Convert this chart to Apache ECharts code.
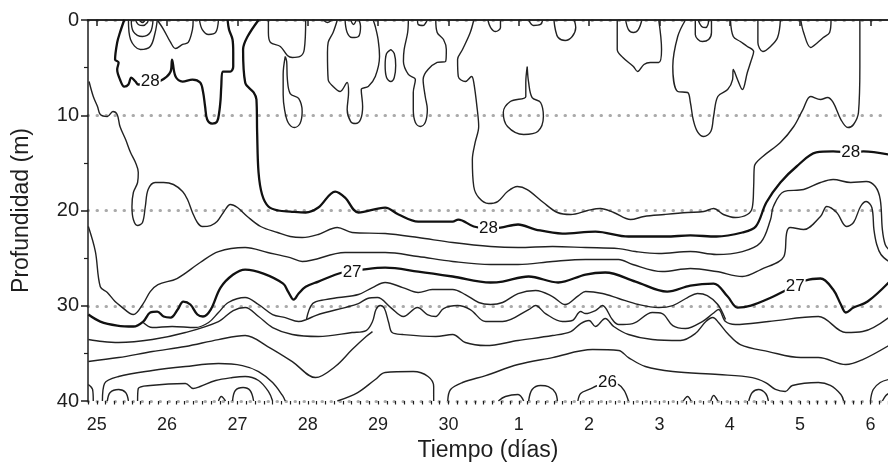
<!DOCTYPE html>
<html><head><meta charset="utf-8">
<script src="https://cdn.jsdelivr.net/npm/echarts@6/dist/echarts.min.js"></script>
<style>html,body{margin:0;padding:0;background:#fff}#c{width:888px;height:462px}</style>
</head><body><div id="c"></div><script>
// time axis: continuous days (31 = "1", 32 = "2", ...); depth in metres
const dayTicks = [25,26,27,28,29,30,31,32,33,34,35,36];
const dayTickLabels = ['25','26','27','28','29','30','1','2','3','4','5','6'];
const depthTicks = [0,10,20,30,40];

// ---- isotherms (bold = labelled 28 / 27) ----
const iso28Lobe = [[25.39,0],[25.33,1.31],[25.29,2.36],[25.26,4.15],[25.31,4.46],[25.29,5.2],[25.33,6.25],[25.39,7.0],[25.45,6.77],[25.49,6.04],[25.55,6.46],[25.59,6.77],[25.69,6.7],[25.9,6.4],[26.05,5.41],[26.07,4.15],[26.12,5.93],[26.22,6.46],[26.36,6.25],[26.47,6.56],[26.51,7.51],[26.54,9.08],[26.57,10.45],[26.64,10.87],[26.71,10.66],[26.74,9.71],[26.76,8.35],[26.77,6.98],[26.79,5.41],[26.9,5.41],[26.94,4.88],[26.94,3.41],[26.93,2.05],[26.88,1.0],[26.86,0]];
const iso28Main = [[27.3,0],[27.14,1.79],[27.08,3.1],[27.11,6.56],[27.23,7.61],[27.27,8.35],[27.28,11.81],[27.3,16.01],[27.35,18.32],[27.44,19.58],[27.58,20.0],[27.75,20.11],[27.97,20.21],[28.15,19.69],[28.39,18.01],[28.53,18.64],[28.72,20.21],[29.1,19.69],[29.29,20.42],[29.57,21.16],[30.06,21.16],[30.14,20.95],[30.36,21.68],[30.56,21.89],[30.74,21.79],[30.99,21.47],[31.24,22.0],[31.62,22.42],[32.09,22.21],[32.56,22.73],[33.09,22.73],[33.44,22.62],[33.81,22.73],[34.18,22.31],[34.37,21.68],[34.52,19.16],[34.72,17.06],[34.95,15.38],[35.23,13.91],[35.47,13.8],[35.72,13.91],[35.9,13.8],[36.26,14.12]];
const iso27 = [[24.88,30.92],[25.05,31.66],[25.29,32.08],[25.52,32.18],[25.66,31.66],[25.76,30.71],[25.86,30.61],[25.95,31.13],[26.05,31.24],[26.15,30.4],[26.23,29.56],[26.33,29.87],[26.43,30.92],[26.51,31.13],[26.62,30.4],[26.76,28.09],[26.94,26.72],[27.11,26.2],[27.37,26.62],[27.65,27.67],[27.72,28.51],[27.8,29.35],[27.87,28.72],[27.97,28.0],[28.15,27.46],[28.49,26.51],[28.78,26.2],[29.1,26.0],[29.57,26.41],[30.06,26.93],[30.6,27.56],[30.77,27.46],[31.14,26.93],[31.56,27.56],[31.95,26.72],[32.23,26.51],[32.66,27.46],[33.11,28.51],[33.44,27.88],[33.77,27.67],[33.97,29.03],[34.11,30.19],[34.3,29.98],[34.62,29.03],[34.79,28.4],[35.08,27.35],[35.29,27.14],[35.47,28.3],[35.58,29.87],[35.65,30.71],[35.76,30.19],[35.96,29.56],[36.26,27.56]];

// ---- thin isotherms ----
const isoUpper = [[30.36,0],[30.31,1.31],[30.2,3.1],[30.13,4.15],[30.14,5.93],[30.24,6.46],[30.33,5.93],[30.36,6.56],[30.41,9.4],[30.43,11.18],[30.38,12.86],[30.34,14.65],[30.36,17.48],[30.43,18.64],[30.57,19.27],[30.7,19.06],[30.84,18.01],[30.98,17.48],[31.12,17.8],[31.35,19.16],[31.55,20.21],[31.74,20.42],[31.98,20.0],[32.16,19.79],[32.35,20.21],[32.59,20.95],[32.78,20.63],[33.07,20.42],[33.4,20.21],[33.63,20.11],[33.77,19.79],[33.91,20.42],[34.08,20.74],[34.25,20.42],[34.32,19.69],[34.34,17.48],[34.35,15.38],[34.47,14.33],[34.72,12.86],[34.91,11.18],[35.04,9.4],[35.15,8.03],[35.29,8.35],[35.39,8.14],[35.47,8.66],[35.58,10.45],[35.68,11.29],[35.76,10.97],[35.83,9.71],[35.85,4.88],[35.85,0]];
const isoB = [[24.89,6.46],[24.95,8.03],[25.01,9.08],[25.05,9.92],[25.15,10.13],[25.23,9.61],[25.29,9.92],[25.33,11.18],[25.41,12.55],[25.48,13.91],[25.55,14.96],[25.59,16.01],[25.58,17.06],[25.52,18.11],[25.5,19.58],[25.52,20.95],[25.58,21.58],[25.65,21.26],[25.69,19.58],[25.73,17.8],[25.83,17.06],[25.95,17.06],[26.09,17.27],[26.22,18.01],[26.29,18.85],[26.36,20.21],[26.43,21.26],[26.5,21.68],[26.62,21.58],[26.71,21.16],[26.8,20.21],[26.9,19.37],[27.0,19.69],[27.14,20.63],[27.33,21.68],[27.57,22.31],[27.75,22.73],[27.92,22.84],[28.15,22.52],[28.42,21.79],[28.63,22.31],[29.1,22.42],[29.57,22.84],[30.06,23.36],[30.6,23.78],[30.99,23.89],[31.48,23.78],[31.95,23.89],[32.42,24.0],[32.66,24.31],[32.99,24.52],[33.44,24.31],[33.81,24.62],[34.18,24.31],[34.44,23.36],[34.58,20.95],[34.62,19.58],[34.77,18.01],[35.05,17.8],[35.29,17.06],[35.47,16.75],[35.72,17.06],[35.94,16.96],[36.07,17.48],[36.14,18.85],[36.17,22.0],[36.21,23.57],[36.26,24.1]];
const isoC = [[24.88,21.68],[24.98,24.31],[25.05,28.0],[25.15,28.61],[25.26,29.56],[25.33,29.98],[25.52,30.92],[25.66,29.77],[25.76,28.51],[25.87,27.77],[26.14,27.14],[26.47,25.46],[26.73,24.31],[27.11,23.89],[27.43,24.41],[27.75,24.94],[27.92,25.35],[28.53,24.41],[29.1,24.41],[29.57,24.83],[30.06,25.35],[30.6,25.67],[30.99,25.67],[31.48,25.35],[31.95,25.14],[32.42,25.14],[32.62,25.67],[33.04,26.41],[33.44,26.09],[33.81,26.41],[34.18,26.93],[34.44,26.2],[34.77,24.83],[34.81,22.31],[34.86,21.79],[35.05,22.0],[35.29,20.63],[35.38,19.58],[35.52,20.21],[35.66,21.68],[35.76,21.26],[35.86,19.58],[35.94,19.06],[36.02,19.69],[36.05,22.0],[36.09,23.57],[36.15,24.62],[36.26,25.35]];
const isoE = [[25.66,31.76],[25.79,32.29],[26.07,32.18],[26.4,32.29],[26.59,31.76],[26.73,30.71],[26.87,29.66],[27.11,29.14],[27.3,29.87],[27.5,30.92],[27.68,31.24],[27.87,31.66],[27.98,31.45],[28.11,31.03],[28.25,30.71],[28.53,30.19],[28.72,29.77],[28.85,29.24],[28.99,29.14],[29.18,30.19],[29.36,31.13],[29.56,30.19],[29.7,30.92],[29.82,31.13],[29.93,30.29],[30.13,29.98],[30.31,30.4],[30.53,31.66],[30.77,31.66],[31.14,30.4],[31.24,29.98],[31.38,30.82],[31.62,31.66],[31.76,31.55],[31.88,30.61],[31.95,30.82],[32.09,30.5],[32.19,29.98],[32.33,31.45],[32.42,31.97],[32.62,31.87],[32.9,30.71],[33.04,30.82],[33.19,32.08],[33.37,32.39],[33.61,31.66],[33.76,30.82],[33.84,30.4],[33.94,31.66],[34.08,31.97],[34.55,31.66],[35.26,31.13],[35.65,32.81],[35.89,32.71],[36.26,31.24]];
const isoX = [[27.98,31.45],[28.07,29.77],[28.25,29.35],[28.44,29.14],[28.72,28.82],[28.92,28.09],[29.1,27.56],[29.35,28.09],[29.57,28.61],[29.77,28.3],[30.06,28.3],[30.24,28.82],[30.43,29.66],[30.6,29.87],[30.77,29.66],[30.99,28.72],[31.24,28.4],[31.48,29.03],[31.66,29.87],[31.85,28.93],[31.95,28.51],[32.19,28.72],[32.42,29.24],[32.7,29.87],[32.99,30.19],[33.19,29.98],[33.4,29.14],[33.54,28.72],[33.68,28.93],[33.83,29.87],[33.94,31.45]];
const isoF = [[24.88,33.55],[25.08,33.76],[25.31,33.86],[25.79,33.55],[26.26,32.81],[26.73,31.66],[26.94,30.5],[27.11,30.19],[27.3,31.13],[27.5,32.29],[27.78,33.02],[28.15,33.23],[28.63,32.81],[28.83,32.6],[28.92,31.66],[28.97,30.4],[29.03,29.98],[29.09,30.29],[29.15,31.76],[29.2,32.81],[29.35,33.02],[29.82,33.23],[30.06,33.02],[30.24,33.86],[30.53,34.18],[30.99,33.65],[31.48,33.13],[31.74,32.71],[31.88,31.87],[32.0,31.55],[32.09,32.18],[32.23,31.34],[32.35,32.18],[32.56,33.02],[32.9,33.55],[33.3,33.65],[33.51,32.92],[33.66,31.66],[33.76,31.24],[33.84,31.76],[33.97,32.92],[34.15,34.07],[34.55,34.81],[35.01,35.44],[35.26,35.44],[35.65,36.17],[35.89,35.65],[36.26,34.18]];
const isoG = [[24.88,35.86],[25.31,35.44],[25.79,34.81],[26.26,34.28],[26.73,33.55],[27.11,33.13],[27.43,34.28],[27.78,35.86],[28.11,37.54],[28.39,36.38],[28.63,34.6],[28.83,33.23],[28.92,32.71]];
const isoH = [[25.08,40],[25.11,38.16],[25.31,37.43],[25.79,36.8],[26.26,36.38],[26.73,36.07],[27.07,36.28],[27.3,36.91],[27.5,38.06],[27.64,39.42],[27.68,40]];
const isoHin = [[25.58,40],[25.59,38.69],[25.76,38.37],[26.26,38.16],[26.37,38.69],[26.47,38.48],[26.69,37.85],[26.93,37.54],[27.11,37.43],[27.3,37.85],[27.44,39.0],[27.5,40]];
const isoI = [[29.99,40],[30.03,38.79],[30.2,38.06],[30.53,37.33],[30.99,36.17],[31.48,35.44],[32.05,34.6],[32.42,34.7],[32.56,35.44],[32.8,36.38],[33.19,36.91],[33.84,37.22],[34.32,37.54],[34.51,38.06],[34.65,38.79],[34.79,39.0],[34.89,38.37],[35.26,38.06],[35.43,38.37],[35.58,39.32],[35.62,40]];
const iso26 = [[31.84,40],[31.88,39.21],[32.0,38.79],[32.12,38.37],[32.26,38.06],[32.42,38.27],[32.5,38.9],[32.56,40]];

// small surface and bottom cells
const top1a = [[25.45,0],[25.48,2.05],[25.62,3.1],[25.76,2.78],[25.83,1.31],[25.86,0]];
const top1b = [[25.49,0],[25.52,1.21],[25.65,1.73],[25.76,1.31],[25.8,0]];
const top1c = [[25.55,0],[25.59,0.47],[25.66,0.58],[25.72,0.26],[25.73,0]];
const top1d = [[25.6,0],[25.65,0.26],[25.69,0]];
const top2 = [[25.86,0],[25.95,1.0],[26.05,2.36],[26.12,2.99],[26.22,2.57],[26.3,2.36],[26.36,1.0],[26.37,0]];
const top3 = [[26.46,0],[26.5,1.0],[26.59,1.52],[26.69,1.31],[26.73,0]];
const top4a = [[27.44,0],[27.44,1.31],[27.47,2.36],[27.61,2.78],[27.71,3.73],[27.78,3.94],[27.89,3.83],[27.95,3.1],[27.97,0]];
const top4b = [[27.68,3.83],[27.65,5.72],[27.65,7.82],[27.67,9.4],[27.72,10.76],[27.81,11.29],[27.89,10.87],[27.92,9.61],[27.87,8.24],[27.75,7.72],[27.71,6.25],[27.7,4.36],[27.68,3.83]];
const top5 = [[28.22,0],[28.28,0.26],[28.34,0]];
const top6a = [[28.42,0],[28.36,1.31],[28.29,2.36],[28.28,3.41],[28.29,6.25],[28.36,6.98],[28.46,7.51],[28.56,6.56],[28.58,7.61],[28.56,9.4],[28.61,10.66],[28.68,10.87],[28.75,10.45],[28.78,9.08],[28.76,7.3],[28.86,6.98],[28.96,5.93],[29.02,3.83],[29.0,2.05],[28.96,0.68],[28.93,0]];
const top6b = [[28.53,0],[28.56,1.31],[28.63,1.84],[28.72,1.73],[28.75,0.68],[28.73,0]];
const top6c = [[28.61,0],[28.65,0.47],[28.69,0]];
const top7 = [[29.18,3.1],[29.23,3.52],[29.25,4.78],[29.23,6.04],[29.18,6.46],[29.12,6.04],[29.1,4.78],[29.12,3.52],[29.18,3.1]];
const top8a = [[29.43,0],[29.42,1.31],[29.37,3.1],[29.36,4.36],[29.43,5.72],[29.53,6.25],[29.5,7.61],[29.5,9.4],[29.53,10.76],[29.6,11.18],[29.67,10.76],[29.7,9.4],[29.67,8.03],[29.64,6.25],[29.84,4.46],[29.96,4.36],[29.97,3.1],[29.93,2.05],[29.84,1.31],[29.82,0]];
const top8b = [[29.56,0],[29.57,0.47],[29.64,0.58],[29.68,0.26],[29.7,0]];
const top9 = [[30.56,0],[30.6,0.79],[30.67,1.21],[30.74,0.79],[30.74,0]];
const top10 = [[31.14,0],[31.21,0.58],[31.31,0.47],[31.34,0]];
const top11 = [[31.5,0],[31.52,1.0],[31.56,1.84],[31.66,2.15],[31.76,1.73],[31.81,0.79],[31.79,0]];
const top12 = [[31.12,4.88],[31.1,6.56],[31.1,8.03],[30.88,8.56],[30.78,9.71],[30.84,11.18],[31.07,12.02],[31.27,11.71],[31.35,10.13],[31.31,8.66],[31.19,8.14],[31.14,6.56],[31.12,4.88]];
const top13a = [[32.4,0],[32.4,3.1],[32.48,3.94],[32.63,4.88],[32.69,5.41],[32.78,4.67],[32.87,4.46],[32.99,4.46],[33.03,3.1],[32.99,0]];
const top13b = [[32.52,0],[32.56,1.0],[32.63,1.31],[32.7,1.0],[32.75,0]];
const top14a = [[33.37,0],[33.26,1.73],[33.19,4.88],[33.26,7.51],[33.4,7.61],[33.44,8.66],[33.48,10.45],[33.54,11.71],[33.63,12.23],[33.73,11.71],[33.77,10.13],[33.83,8.03],[33.97,7.3],[34.04,6.25],[34.05,5.2],[34.11,6.25],[34.18,7.3],[34.25,5.51],[34.3,4.36],[34.34,3.31],[34.25,2.78],[34.15,2.26],[34.05,1.73],[34.01,0]];
const top14b = [[33.51,0],[33.51,1.52],[33.61,2.26],[33.7,2.05],[33.74,1.31],[33.74,0]];
const top14c = [[33.55,0],[33.6,0.68],[33.66,0.79],[33.69,0.47],[33.7,0]];
const top15 = [[34.4,0],[34.4,2.36],[34.47,3.31],[34.58,2.78],[34.68,1.84],[34.72,0]];
const top16 = [[35.01,0],[35.05,1.31],[35.15,2.89],[35.25,2.36],[35.33,1.84],[35.42,1.31],[35.44,0]];
const bot1 = [[24.88,38.27],[24.94,38.79],[24.95,40]];
const bot2 = [[25.15,40],[25.19,39.11],[25.31,38.79],[25.41,39.11],[25.45,40]];
const bot3 = [[26.73,40],[26.77,39.53],[26.83,40]];
const bot4 = [[26.93,40],[26.97,38.9],[27.08,38.58],[27.18,38.9],[27.23,40]];
const bot5 = [[28.42,40],[28.71,39.11],[28.96,37.74],[29.1,37.01],[29.5,36.91],[29.71,37.43],[29.79,38.48],[29.79,40]];
const bot6 = [[30.71,40],[30.81,39.53],[30.99,39.32],[31.07,40]];
const bot7 = [[31.14,40],[31.19,38.79],[31.31,38.37],[31.42,38.48],[31.52,39.11],[31.55,40]];
const bot8 = [[33.34,40],[33.4,39.53],[33.45,40]];
const bot9 = [[33.73,40],[33.77,39.42],[33.83,40]];
const bot10 = [[34.27,40],[34.32,39.11],[34.41,38.79],[34.51,39.21],[34.55,40]];
const bot11 = [[36.0,40],[36.04,38.79],[36.14,38.06],[36.26,37.74]];
const bot12 = [[36.17,40],[36.22,39.42],[36.26,39.21]];

const contourLabels = [[25.76,6.46,'28'],[30.57,21.89,'28'],[35.72,13.91,'28'],[28.63,26.51,'27'],[34.93,27.98,'27'],[32.26,38.06,'26']];

const boldLines = [iso28Lobe, iso28Main, iso27];
const thinLines = [isoUpper, isoB, isoC, isoE, isoX, isoF, isoG, isoH, isoHin, isoI, iso26,
  top1a, top1b, top1c, top1d, top2, top3, top4a, top4b, top5, top6a, top6b, top6c, top7, top8a, top8b,
  top9, top10, top11, top12, top13a, top13b, top14a, top14b, top14c, top15, top16,
  bot1, bot2, bot3, bot4, bot5, bot6, bot7, bot8, bot9, bot10, bot11, bot12];

const FONT = 'Liberation Sans, Arial, sans-serif';
const INK = '#1e1e1e';
const minorTicks = [];
for (let v = 24.875; v <= 36.25 + 1e-9; v += 0.125) minorTicks.push(v);

const series = [];
thinLines.forEach(d => series.push({type:'line', data:d, smooth:0.35, symbol:'none', silent:true, clip:true,
  lineStyle:{color:'#222', width:1.4}, z:2}));
boldLines.forEach(d => series.push({type:'line', data:d, smooth:0.35, symbol:'none', silent:true, clip:true,
  lineStyle:{color:'#111', width:2.3}, z:3}));
series.push({type:'scatter', symbolSize:0, silent:true, z:5,
  data: contourLabels.map(p => ({value:[p[0],p[1]], name:p[2]})),
  label:{show:true, position:'inside', formatter: p => p.name, fontSize:17, color:'#111', fontFamily:FONT,
    backgroundColor:'#fff', padding:[0,1]},
  itemStyle:{opacity:1}, emphasis:{disabled:true}});

const chart = echarts.init(document.getElementById('c'), null, {renderer:'canvas'});
chart.setOption({
  animation:false,
  textStyle:{fontFamily:FONT},
  grid:{left:88, right:0, top:20, bottom:61, containLabel:false, outerBoundsMode:'none'},
  xAxis:[
    {type:'value', min:24.875, max:36.25, position:'bottom',
      axisLine:{lineStyle:{color:INK, width:1.5}},
      axisTick:{customValues:dayTicks, length:6, lineStyle:{color:INK, width:1.5}},
      axisLabel:{customValues:dayTicks, formatter: v => dayTickLabels[dayTicks.indexOf(Math.round(v))],
        fontSize:18, color:INK, margin:15, fontFamily:FONT},
      splitLine:{show:false},
      name:'Tiempo (días)', nameLocation:'middle', nameGap:37,
      nameTextStyle:{fontSize:23, color:INK, fontFamily:FONT}},
    {type:'value', min:24.875, max:36.25, position:'bottom',
      axisLine:{show:false},
      axisTick:{customValues:minorTicks, length:3.5, lineStyle:{color:INK, width:1.2}},
      axisLabel:{show:false}, splitLine:{show:false}},
    {type:'value', min:24.875, max:36.25, position:'top',
      axisLine:{show:true, lineStyle:{color:INK, width:1.5}},
      axisTick:{show:false}, axisLabel:{show:false}, splitLine:{show:false}}
  ],
  yAxis:{type:'value', inverse:true, min:0, max:40, interval:10,
    axisLine:{show:true, lineStyle:{color:INK, width:1.5}},
    axisTick:{show:true, customValues:depthTicks, length:7, lineStyle:{color:INK, width:1.5}},
    minorTick:{show:true, splitNumber:2, length:4, lineStyle:{color:INK, width:1.2}},
    axisLabel:{fontSize:20, color:INK, margin:9, fontFamily:FONT},
    splitLine:{show:true, lineStyle:{color:'#aaa', type:[0.5,8.5], width:3, cap:'round'}},
    name:'Profundidad (m)', nameLocation:'middle', nameGap:55, nameRotate:90,
    nameTextStyle:{fontSize:23, color:INK, fontFamily:FONT}},
  series: series
});
</script></body></html>
